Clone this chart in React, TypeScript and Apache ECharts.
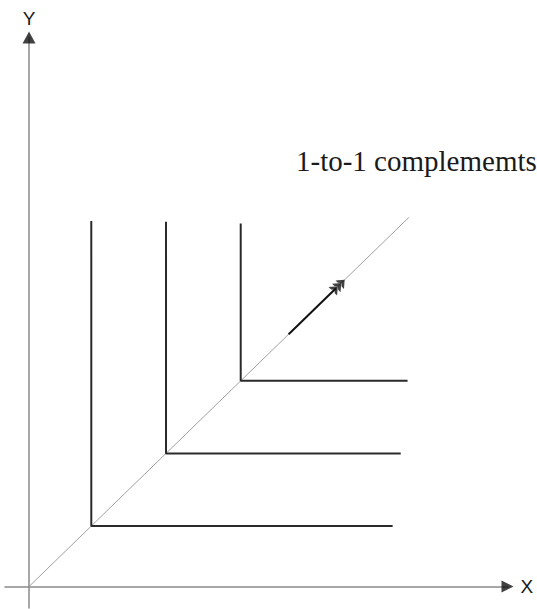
import React, { useEffect, useRef } from "react";
import * as echarts from "echarts";

// Diagram values (data units)
const xRange = [-0.386, 7.685];
const yRange = [-0.355, 9.074];
const cornerValues = [1.0, 2.2, 3.4]; // corners of the L-shaped curves on the 45° line
const verticalTops = [6.04, 6.03, 6.0];
const horizontalEnds = [5.84, 5.97, 6.08];
const diagonalEnd = 6.1;
const arrowStart = 4.17;
const arrowEnd = 4.93;
const chevronPositions = [4.92, 4.975, 5.03];
const labelText = "1-to-1 complememts";
const axisNames = ["X", "Y"];

const chevron = "path://M0,10 L5,0 L10,10 L7.2,10 L5,6.6 L2.8,10 Z";

export default function App() {
  const ref = useRef<HTMLDivElement>(null);
  useEffect(() => {
    if (!ref.current) return;
    const chart = echarts.init(ref.current, null, { renderer: "svg" });
    const lSeries = cornerValues.map((c, i) => ({
      type: "line",
      data: [
        [c, verticalTops[i]],
        [c, c],
        [horizontalEnds[i], c],
      ],
      symbol: "none",
      lineStyle: { color: "#2a2a2a", width: 2 },
      z: 3,
    }));
    chart.setOption({
      animation: false,
      grid: {
        left: 5,
        right: 29.5,
        top: 37.5,
        bottom: 1,
        containLabel: false,
        outerBoundsMode: "none",
      },
      xAxis: {
        type: "value",
        min: xRange[0],
        max: xRange[1],
        name: axisNames[0],
        nameLocation: "end",
        nameGap: 13,
        nameTextStyle: { fontFamily: "Liberation Sans", fontSize: 19, color: "#1a1a1a" },
        axisLine: { onZero: true, lineStyle: { color: "#8a8a8a", width: 1.5 } },
        axisTick: { show: false },
        axisLabel: { show: false },
        splitLine: { show: false },
      },
      yAxis: {
        type: "value",
        min: yRange[0],
        max: yRange[1],
        name: axisNames[1],
        nameLocation: "end",
        nameGap: 10,
        nameTextStyle: { fontFamily: "Liberation Sans", fontSize: 19, color: "#1a1a1a" },
        axisLine: { onZero: true, lineStyle: { color: "#8a8a8a", width: 1.5 } },
        axisTick: { show: false },
        axisLabel: { show: false },
        splitLine: { show: false },
      },
      series: [
        {
          type: "line",
          data: [
            [0, 0],
            [diagonalEnd, diagonalEnd],
          ],
          symbol: "none",
          lineStyle: { color: "#a0a0a0", width: 1 },
          z: 2,
        },
        ...lSeries,
        {
          type: "line",
          data: [
            [arrowStart, arrowStart],
            [arrowEnd, arrowEnd],
          ],
          symbol: "none",
          lineStyle: { color: "#111", width: 2 },
          z: 4,
        },
        {
          type: "scatter",
          data: chevronPositions.map((v) => [v, v]),
          symbol: chevron,
          symbolSize: [12, 7],
          symbolRotate: -45,
          itemStyle: { color: "#111" },
          z: 5,
        },
        {
          type: "scatter",
          data: [[xRange[1], 0]],
          symbol: "triangle",
          symbolSize: [12, 12],
          symbolRotate: -90,
          itemStyle: { color: "#111" },
          z: 5,
        },
        {
          type: "scatter",
          data: [[0, yRange[1]]],
          symbol: "triangle",
          symbolSize: [13, 12],
          itemStyle: { color: "#111" },
          z: 5,
        },
      ],
      graphic: [
        {
          type: "text",
          x: 296,
          y: 161,
          style: {
            text: labelText,
            font: '29px "Liberation Serif"',
            fill: "#1a1a1a",
            verticalAlign: "middle",
          },
        },
      ],
    });
    return () => chart.dispose();
  }, []);
  return (
    <div
      ref={ref}
      style={{ position: "absolute", left: 0, top: 0, width: 537, height: 609 }}
    />
  );
}
